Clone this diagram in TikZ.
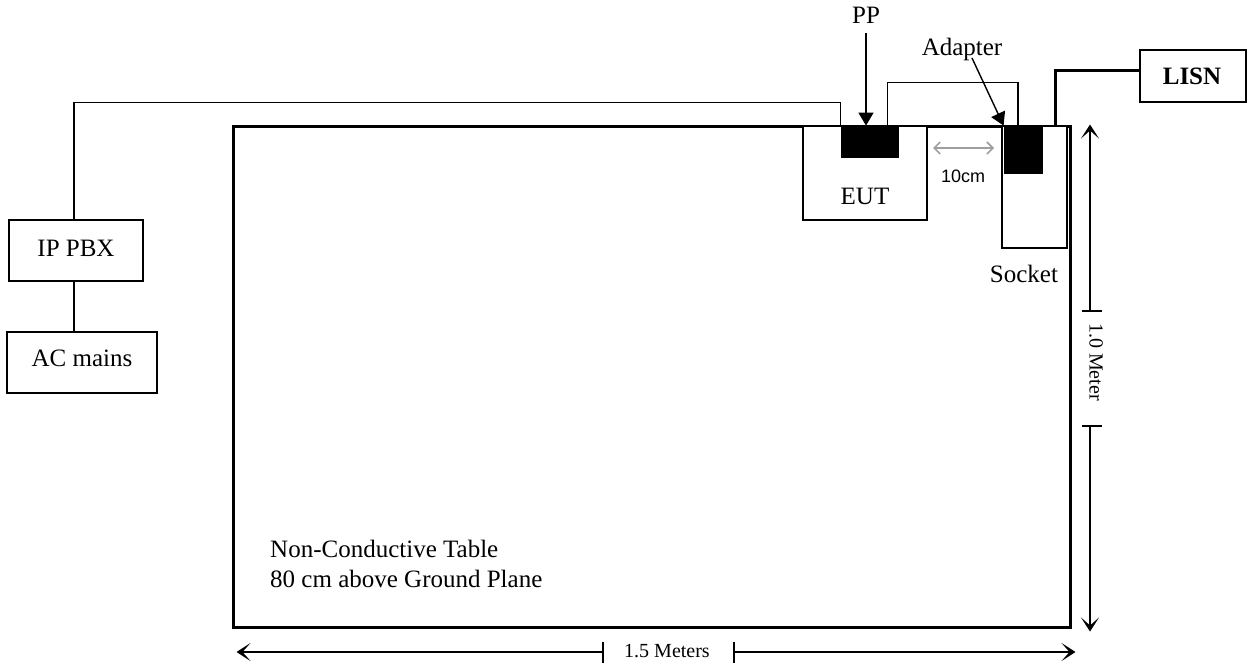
\documentclass[tikz,border=0pt]{standalone}
\usepackage{fontspec}
\setmainfont{Liberation Serif}
\newfontfamily\arialf{Liberation Sans}
\usetikzlibrary{arrows.meta,calc}
\tikzset{
  box/.style={draw,line width=1.4pt,rectangle,inner sep=0pt,fill=white},
  blk/.style={draw,fill=black,rectangle,inner sep=0pt,line width=0.8pt},
  lbl/.style={inner sep=0pt,anchor=base,font=\fontsize{25}{29}\selectfont},
  dimlbl/.style={inner sep=0pt,font=\fontsize{20}{24}\selectfont},
  cable/.style={line width=1.4pt},
  thickcable/.style={line width=3pt},
  ptr/.style={line width=1.4pt,-{Triangle[length=13pt,width=15pt]}},
  dimarrow/.style={line width=1.4pt,-{Stealth[length=14pt,width=18pt,inset=8pt]}},
  grayarrow/.style={line width=1.6pt,draw=gray!75,{Straight Barb[length=6pt,width=12pt]}-{Straight Barb[length=6pt,width=12pt]}},
}
\begin{document}
\begin{tikzpicture}[x=1pt,y=-1pt]
\useasboundingbox (0,0) rectangle (1248,665);
% table
\node[draw,line width=3pt,rectangle,inner sep=0pt,minimum width=837pt,minimum height=501pt] (table) at (651.5,376.5) {};
% boxes
\node[box,minimum width=124pt,minimum height=94pt] (eut) at (865,173) {};
\node[box,minimum width=65pt,minimum height=122pt] (socket) at (1034.5,187) {};
\node[blk,minimum width=57pt,minimum height=31pt] (pp) at (869.5,141.5) {};
\node[blk,minimum width=38pt,minimum height=47pt] (adapter) at (1023,149.5) {};
\node[box,minimum width=106pt,minimum height=52pt] (lisn) at (1193,76) {};
\node[box,minimum width=134pt,minimum height=61pt] (ipbx) at (76,250.5) {};
\node[box,minimum width=150pt,minimum height=61pt] (acm) at (82,362.5) {};
% labels
\node[lbl] (eutl) at (865,204) {EUT};
\node[lbl] (socketl) at (1024,282) {Socket};
\node[lbl] (lisnl) at (1192,84) {\bfseries LISN};
\node[lbl] (ipbxl) at (76,256) {IP PBX};
\node[lbl] (acml) at (82,366) {AC mains};
\node[lbl] (ppl) at (866,23) {PP};
\node[lbl] (adl) at (962,55) {Adapter};
\node[inner sep=0pt,anchor=base,font=\arialf\fontsize{18}{22}\selectfont] (tencm) at (963,182) {10cm};
\node[lbl,anchor=base west] (tbl1) at (270,557) {Non-Conductive Table};
\node[lbl,anchor=base west] (tbl2) at (270,587) {80 cm above Ground Plane};
% cables
\draw[cable] ($(ipbx.north)+(-2,0)$) |- ($(pp.north west)+(0,-23)$) -- (pp.north west);
\draw[cable] ($(pp.north east)+(-11,0)$) |- ($(adapter.north)+(-5,-43)$) -- ($(adapter.north)+(-5,0)$);
\draw[cable] ($(ipbx.south)+(-2,0)$) -- ($(acm.north)+(-8,0)$);
\draw[thickcable] ($(socket.north east)+(-12,0)$) |- ($(lisn.west)+(0,-6)$);
% pointers
\draw[ptr] (866,33) -- (pp.north -| 866,0);
\coordinate (adtail) at (972,58);
\draw[ptr] (adtail) -- (adapter.north west);
% 10cm
\coordinate (g1) at (933,148);
\coordinate (g2) at (994,148);
\draw[grayarrow] (g1) -- (g2);
% vertical dimension
\coordinate (vt) at (1090,311);
\coordinate (vb) at (1090,426);
\draw[dimarrow] (vt) -- (table.north east -| vt);
\draw[dimarrow] (vb) -- ($(table.south east -| vb)+(0,3)$);
\draw[line width=1.4pt] ($(vt)+(-8,0)$) -- ($(vt)+(12,0)$);
\draw[line width=1.4pt] ($(vb)+(-8,0)$) -- ($(vb)+(12,0)$);
\node[dimlbl,rotate=-90] (vlab) at (1096,362) {1.0 Meter};
% horizontal dimension
\coordinate (hl) at (603,652);
\coordinate (hr) at (734,652);
\draw[dimarrow] (hl) -- ($(table.south west |- hl)+(5,0)$);
\draw[dimarrow] (hr) -- ($(table.south east |- hr)+(4,0)$);
\draw[line width=1.4pt] ($(hl)+(0,-10)$) -- ($(hl)+(0,11)$);
\draw[line width=1.4pt] ($(hr)+(0,-10)$) -- ($(hr)+(0,11)$);
\node[dimlbl] (hlab) at (667,651) {1.5 Meters};
\end{tikzpicture}
\end{document}
